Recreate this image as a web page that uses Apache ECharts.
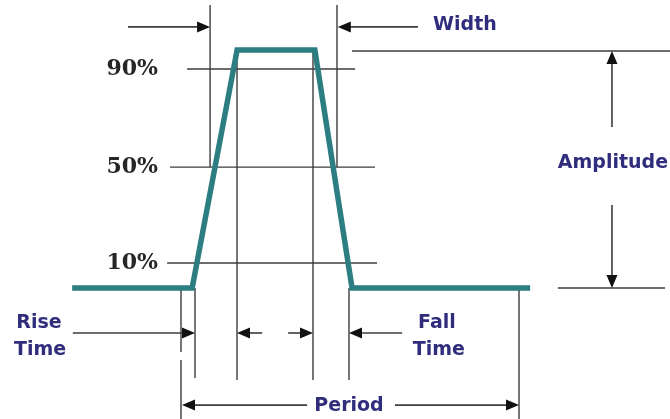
<!DOCTYPE html>
<html>
<head>
<meta charset="utf-8">
<script src="https://cdn.jsdelivr.net/npm/echarts@6/dist/echarts.min.js"></script>
<style>
  html, body { margin: 0; padding: 0; background: #ffffff; }
  #chart { width: 670px; height: 419px; }
</style>
</head>
<body>
<div id="chart"></div>
<script>
// ---- Data (time in % of period, level in % of amplitude) ----
const pulseTime  = [-32.2, 3.3, 16.6, 39.6, 50.6, 103.3];
const pulseLevel = [0, 0, 100, 100, 0, 0];

const levelValues = [92.0, 50.8, 10.5];
const levelLabels = ['90%', '50%', '10%'];
const levelStart  = [1.8, -3.25, -4.1];
const levelEnd    = [51.5, 57.4, 58.0];

// thin guide segments: [t1, v1, t2, v2]
const guideT1 = [8.6, 46.15, 16.57, 39.05, 4.14, 0, 0, 49.7, 100, 50.6, 111.5];
const guideV1 = [118.9, 118.9, 100, 100, 0, 0, -30.3, 0, 0, 99.6, 0];
const guideT2 = [8.6, 46.15, 16.57, 39.05, 4.14, 0, 0, 49.7, 100, 144.7, 143.2];
const guideV2 = [50.8, 50.8, -38.7, -38.7, -37.8, -26.9, -55.0, -38.7, -55.0, 99.6, 0];

// arrows: tail (t1, v1) -> tip (t2, v2)
const arrowT1 = [-15.7, 70.1, 127.5, 127.5, -32.0, 24.0, 31.7, 65.4, 37.3, 63.3];
const arrowV1 = [109.7, 109.7, 67.6, 34.9, -18.9, -18.9, -18.9, -18.9, -49.2, -49.2];
const arrowT2 = [8.6, 46.4, 127.5, 127.5, 4.14, 16.57, 39.05, 49.7, 0.3, 100];
const arrowV2 = [109.7, 109.7, 99.6, 0, -18.9, -18.9, -18.9, -18.9, -49.2, -49.2];

// annotation texts
const noteLabels = ['Width', 'Amplitude', 'Rise', 'Time', 'Fall', 'Time', 'Period'];
const noteT = [84.0, 127.8, -42.0, -41.7, 75.7, 76.3, 49.7];
const noteV = [110.5, 52.5, -14.7, -26.1, -14.7, -26.1, -49.6];

// ---- Styles ----
const PULSE_COLOR = '#2d7e82';
const GUIDE_COLOR = '#3c3c3c';
const NOTE_COLOR = '#2f2d7c';

const chart = echarts.init(document.getElementById('chart'), null, { renderer: 'canvas' });

const guideData = guideT1.map((t, i) => [t, guideV1[i], guideT2[i], guideV2[i]]);
levelValues.forEach((v, i) => guideData.push([levelStart[i], v, levelEnd[i], v]));
const arrowData = arrowT1.map((t, i) => [t, arrowV1[i], arrowT2[i], arrowV2[i]]);
const noteData = noteT.map((t, i) => [t, noteV[i]]);
const levelLabelData = levelValues.map(v => [-6.8, v]);

chart.setOption({
  animation: false,
  backgroundColor: '#ffffff',
  grid: { left: 0, right: 0, top: 0, bottom: 0, show: false },
  xAxis: { type: 'value', min: -53.55, max: 144.67, show: false },
  yAxis: { type: 'value', min: -55.04, max: 121.0, show: false },
  series: [
    {
      type: 'custom',
      name: 'guides',
      clip: false,
      data: guideData,
      encode: { x: [0, 2], y: [1, 3] },
      renderItem: function (params, api) {
        const a = api.coord([api.value(0), api.value(1)]);
        const b = api.coord([api.value(2), api.value(3)]);
        return {
          type: 'line',
          shape: { x1: a[0], y1: a[1], x2: b[0], y2: b[1] },
          style: { stroke: GUIDE_COLOR, lineWidth: 1.4 }
        };
      }
    },
    {
      type: 'custom',
      name: 'arrows',
      clip: false,
      data: arrowData,
      encode: { x: [0, 2], y: [1, 3] },
      renderItem: function (params, api) {
        const a = api.coord([api.value(0), api.value(1)]);
        const b = api.coord([api.value(2), api.value(3)]);
        const dx = b[0] - a[0], dy = b[1] - a[1];
        const len = Math.sqrt(dx * dx + dy * dy) || 1;
        const ux = dx / len, uy = dy / len;
        const hl = 13, hw = 5.5;
        const bx = b[0] - ux * hl, by = b[1] - uy * hl;
        return {
          type: 'group',
          children: [
            {
              type: 'line',
              shape: { x1: a[0], y1: a[1], x2: bx + ux * 2, y2: by + uy * 2 },
              style: { stroke: GUIDE_COLOR, lineWidth: 1.6 }
            },
            {
              type: 'polygon',
              shape: { points: [[b[0], b[1]], [bx - uy * hw, by + ux * hw], [bx + uy * hw, by - ux * hw]] },
              style: { fill: '#111111' }
            }
          ]
        };
      }
    },
    {
      type: 'line',
      name: 'pulse',
      clip: false,
      symbol: 'none',
      data: pulseTime.map((t, i) => [t, pulseLevel[i]]),
      lineStyle: { color: PULSE_COLOR, width: 5.5, join: 'miter', cap: 'butt' },
      z: 5
    },
    {
      type: 'custom',
      name: 'notes',
      clip: false,
      data: noteData,
      renderItem: function (params, api) {
        const p = api.coord([api.value(0), api.value(1)]);
        return {
          type: 'text',
          x: p[0], y: p[1],
          style: {
            text: noteLabels[params.dataIndex],
            fill: NOTE_COLOR,
            font: 'bold 19px "DejaVu Sans", sans-serif',
            align: 'center',
            verticalAlign: 'middle'
          }
        };
      }
    },
    {
      type: 'custom',
      name: 'levelLabels',
      clip: false,
      data: levelLabelData,
      renderItem: function (params, api) {
        const p = api.coord([api.value(0), api.value(1)]);
        return {
          type: 'text',
          x: p[0], y: p[1],
          style: {
            text: levelLabels[params.dataIndex],
            fill: '#262626',
            font: 'bold 22px "DejaVu Serif", serif',
            align: 'right',
            verticalAlign: 'middle'
          }
        };
      }
    }
  ]
});
</script>
</body>
</html>
